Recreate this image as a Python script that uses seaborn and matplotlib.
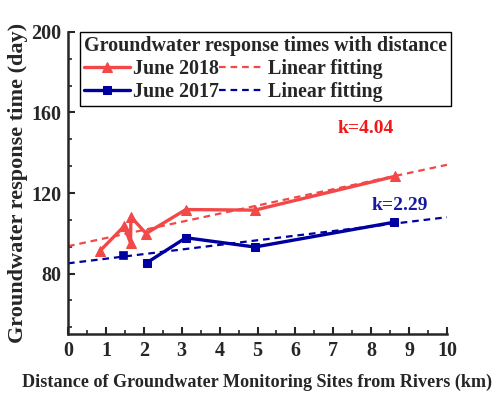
import numpy as np
import pandas as pd
import seaborn as sns
import matplotlib.pyplot as plt
from matplotlib.ticker import MultipleLocator

# data
dist_2018 = [0.84, 1.48, 1.65, 1.66, 2.06, 3.11, 4.93, 8.63]
time_2018 = [91.2, 103.5, 95.3, 108.2, 99.9, 111.8, 111.5, 128.3]

dist_2017_single = [1.46]
time_2017_single = [89.2]
dist_2017 = [2.08, 3.11, 4.93, 8.60]
time_2017 = [85.4, 97.8, 93.2, 105.5]

fit_x = np.array([0, 10])
slope_2018, intercept_2018 = 4.04, 93.6
slope_2017, intercept_2017 = 2.29, 85.1

sns.set_style("ticks")
plt.rcParams['font.family'] = ['Liberation Serif', 'DejaVu Serif']
plt.rcParams['font.weight'] = 'bold'

red = '#f24848'
blue = '#0000a0'

fig = plt.figure(figsize=(5, 3.93), dpi=100)
ax = fig.add_axes([0.136, 0.150, 0.758, 0.769])

df18 = pd.DataFrame({'x': dist_2018, 'y': time_2018})
df17 = pd.DataFrame({'x': dist_2017, 'y': time_2017})

sns.lineplot(x='x', y='y', data=df18, sort=False, ax=ax, color=red, lw=2.4,
             marker='^', markersize=7.5, markeredgecolor=red, label='June 2018')
sns.lineplot(x='x', y='y', data=df17, sort=False, ax=ax, color=blue, lw=2.4,
             marker='s', markersize=6, markeredgecolor=blue, label='June 2017')
sns.scatterplot(x=dist_2017_single, y=time_2017_single, ax=ax, color=blue,
                marker='s', s=36, edgecolor=blue, zorder=3)
sns.lineplot(x=fit_x, y=intercept_2018 + slope_2018 * fit_x, ax=ax, color=red,
             lw=1.6, label='Linear fitting')
sns.lineplot(x=fit_x, y=intercept_2017 + slope_2017 * fit_x, ax=ax, color=blue,
             lw=1.6, label='Linear fitting ')
ax.get_lines()[-1].set_linestyle((0, (3, 2.2)))
ax.get_lines()[-2].set_linestyle((0, (3, 2.2)))

ax.text(7.85, 152, 'k=4.04', color='#f01818', fontsize=14, fontweight='bold',
        ha='center', va='center')
ax.text(8.75, 114, 'k=2.29', color='#1818a0', fontsize=14, fontweight='bold',
        ha='center', va='center')

ax.set_xlim(0, 10)
ax.set_ylim(50, 200)
ax.xaxis.set_major_locator(MultipleLocator(1))
ax.xaxis.set_minor_locator(MultipleLocator(0.5))
ax.yaxis.set_major_locator(MultipleLocator(40))
ax.yaxis.set_minor_locator(MultipleLocator(40 / 3))
ax.set_yticks([80, 120, 160, 200])
ax.tick_params(which='major', direction='in', length=5, width=1.5,
               labelsize=14.5, pad=5)
ax.tick_params(which='minor', direction='in', length=3, width=1.2)
for s in ['top', 'right']:
    ax.spines[s].set_visible(False)
for s in ['left', 'bottom']:
    ax.spines[s].set_linewidth(1.8)

ax.set_xlabel('Distance of Groundwater Monitoring Sites from Rivers (km)',
              fontsize=13.1, fontweight='bold', labelpad=9)
ax.set_ylabel('Groundwater response time (day)', fontsize=16,
              fontweight='bold', labelpad=2)

handles, labels = ax.get_legend_handles_labels()
h = {l: hd for hd, l in zip(handles, labels)}
leg = ax.legend([h['June 2018'], h['June 2017'], h['Linear fitting'], h['Linear fitting ']],
                ['June 2018', 'June 2017', 'Linear fitting', 'Linear fitting'],
                ncol=2, title='Groundwater response times with distance',
                loc='upper left', bbox_to_anchor=(0.032, 1.0), alignment='left',
                fontsize=14.4, title_fontproperties={'weight': 'bold', 'size': 14.4},
                frameon=True, fancybox=False, framealpha=1, edgecolor='black',
                handlelength=2.3, handletextpad=0.15, columnspacing=0.0,
                labelspacing=0.15, borderpad=0.2, borderaxespad=0)
leg.get_frame().set_linewidth(1.0)

fig.savefig('out.png', dpi=100)
